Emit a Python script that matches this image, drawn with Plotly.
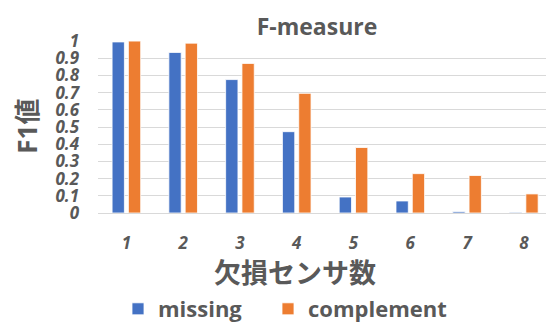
import plotly.graph_objects as go

categories = ["1", "2", "3", "4", "5", "6", "7", "8"]
missing = [0.995, 0.934, 0.776, 0.473, 0.093, 0.070, 0.008, 0.004]
complement = [1.0, 0.988, 0.870, 0.696, 0.381, 0.229, 0.218, 0.111]
y_ticks = [0, 0.1, 0.2, 0.3, 0.4, 0.5, 0.6, 0.7, 0.8, 0.9, 1]
y_tick_text = ["0", "0.1", "0.2", "0.3", "0.4", "0.5", "0.6", "0.7", "0.8", "0.9", "1"]

GRAY = "#595959"
FONT = "Open Sans, Noto Sans CJK JP, sans-serif"

fig = go.Figure()
fig.add_trace(go.Bar(
    x=categories, y=missing, name="missing", legend="legend",
    marker=dict(color="#4472C4", line=dict(color="white", width=0.8)),
    width=0.217, offset=-0.252,
))
fig.add_trace(go.Bar(
    x=categories, y=complement, name="complement", legend="legend2",
    marker=dict(color="#ED7D31", line=dict(color="white", width=0.8)),
    width=0.217, offset=0.035,
))

legend_common = dict(orientation="h", xref="container", yref="container",
                     xanchor="left", y=1 - 309/322, yanchor="middle",
                     font=dict(size=22, color=GRAY, family=FONT, weight="bold"),
                     itemwidth=30, bgcolor="rgba(0,0,0,0)")

fig.update_layout(
    width=546, height=322,
    margin=dict(l=98, r=0, t=41, b=109, pad=0),
    paper_bgcolor="white", plot_bgcolor="white",
    barmode="group",
    font=dict(family=FONT, color=GRAY),
    title=dict(text="<b>F-measure</b>", x=317/546, xanchor="center", xref="container",
               y=1 - 27/322, yanchor="middle", yref="container",
               font=dict(size=23, color=GRAY, family=FONT)),
    xaxis=dict(type="category", range=[-0.5, 7.39], showgrid=False, showline=False,
               ticks="", ticklabelstandoff=18,
               tickfont=dict(size=17, color=GRAY, family=FONT, style="italic", weight="bold")),
    yaxis=dict(range=[0, 1.0005], tickvals=y_ticks, ticktext=y_tick_text,
               showgrid=True, gridcolor="#D9D9D9", gridwidth=1,
               zeroline=True, zerolinecolor="#D9D9D9", zerolinewidth=1,
               showline=False, ticks="", ticklabelstandoff=18,
               tickfont=dict(size=17, color=GRAY, family=FONT, style="italic", weight="bold")),
    legend=dict(x=118/546, **legend_common),
    legend2=dict(x=268/546, **legend_common),
    showlegend=True,
    annotations=[
        dict(text="<b>欠損センサ数</b>", xref="paper", yref="paper",
             x=(295 - 98) / (546 - 98), y=-(271.7 - 212.7) / (212.7 - 41),
             xanchor="center", yanchor="middle", showarrow=False,
             font=dict(size=27, color=GRAY, family=FONT)),
        dict(text="<b>F1値</b>", xref="paper", yref="paper",
             x=-(98 - 27.5) / (546 - 98), y=(212.7 - 126) / (212.7 - 41),
             xanchor="center", yanchor="middle", showarrow=False, textangle=-90,
             font=dict(size=26, color=GRAY, family=FONT)),
    ],
)

fig.write_html("out.html")
